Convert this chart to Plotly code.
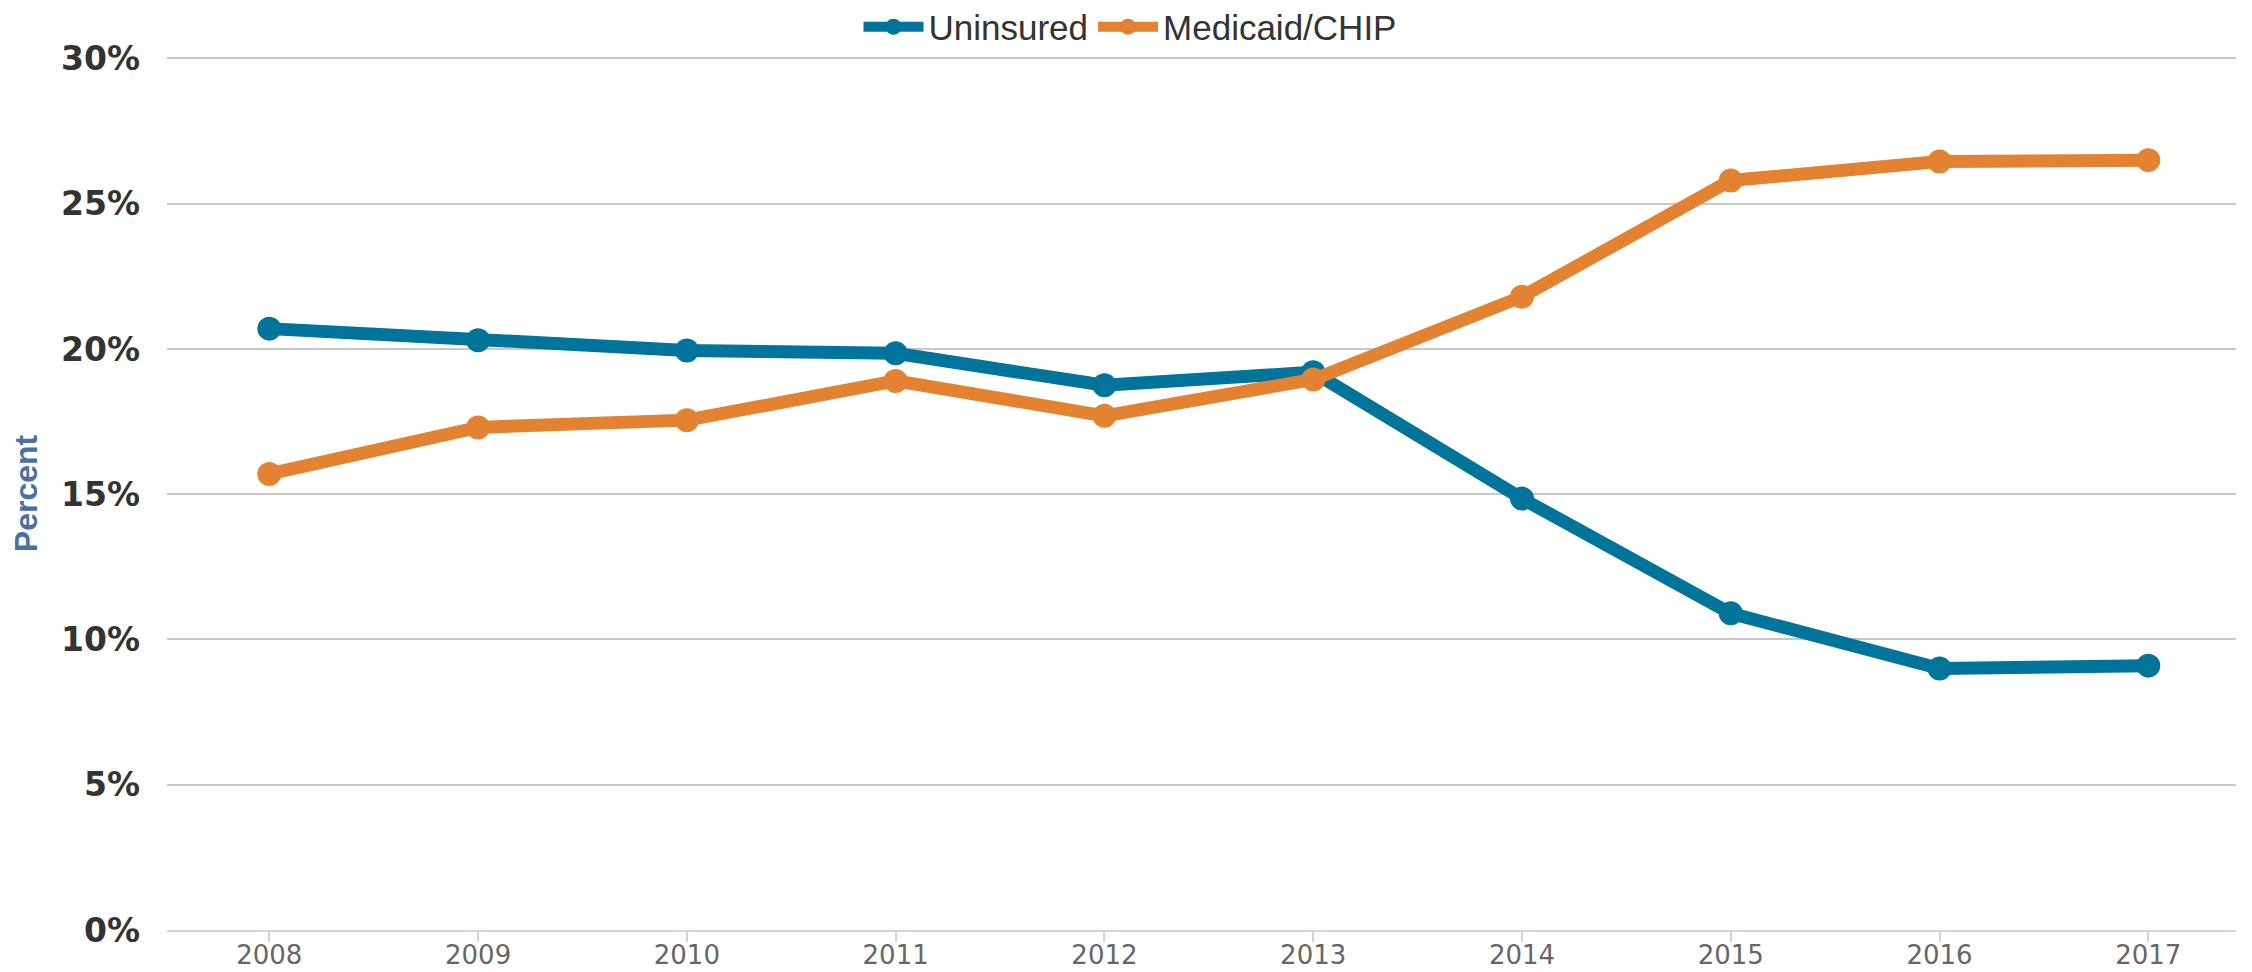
import plotly.graph_objects as go

years = [2008, 2009, 2010, 2011, 2012, 2013, 2014, 2015, 2016, 2017]
uninsured = [20.7, 20.3, 19.95, 19.85, 18.75, 19.2, 14.85, 10.9, 9.0, 9.1]
medicaid_chip = [15.7, 17.3, 17.55, 18.9, 17.7, 18.95, 21.8, 25.8, 26.45, 26.5]
y_ticks = [0, 5, 10, 15, 20, 25, 30]
y_tick_labels = [f"{v}%" for v in y_ticks]

blue = "#00749a"
orange = "#e38332"

fig = go.Figure()
fig.add_trace(go.Scatter(x=years, y=uninsured, name="Uninsured", mode="lines+markers",
                         line=dict(color=blue, width=13),
                         marker=dict(color=blue, size=24)))
fig.add_trace(go.Scatter(x=years, y=medicaid_chip, name="Medicaid/CHIP", mode="lines+markers",
                         line=dict(color=orange, width=13),
                         marker=dict(color=orange, size=24)))

W, H = 2244, 964
fig.update_layout(
    width=W, height=H,
    paper_bgcolor="white", plot_bgcolor="white",
    margin=dict(l=159, r=16, t=49, b=42, autoexpand=False),
    showlegend=True,
    legend=dict(orientation="h", x=0.5, xanchor="center", xref="container",
                y=1 - 19/H, yanchor="middle", yref="container",
                font=dict(family="Liberation Sans, Arial", size=35, color="#333333"),
                itemwidth=60, itemsizing="trace"),
    xaxis=dict(range=[2007.51, 2017.42], tickmode="array", tickvals=years,
               ticktext=[str(y) for y in years], automargin=False,
               showgrid=False, zeroline=False, showline=True, linecolor="#ccd6eb", linewidth=2,
               ticks="outside", ticklen=10, tickwidth=2, tickcolor="#ccd6eb",
               ticklabelstandoff=-9,
               tickfont=dict(family="DejaVu Sans, Verdana", size=26, color="#666666")),
    yaxis=dict(range=[0, 30.05], tickmode="array", tickvals=y_ticks, ticktext=y_tick_labels,
               showgrid=True, gridcolor="#c8c8c8", gridwidth=2, zeroline=False,
               ticklabelstandoff=26, automargin=False,
               tickfont=dict(family="DejaVu Sans, Verdana", size=33, color="#333333", weight="bold"),
               title=dict(text="Percent", standoff=46,
                          font=dict(family="Liberation Sans, Arial", size=32, color="#4a6fa5", weight="bold"))),
)

fig.write_html("out.html")
